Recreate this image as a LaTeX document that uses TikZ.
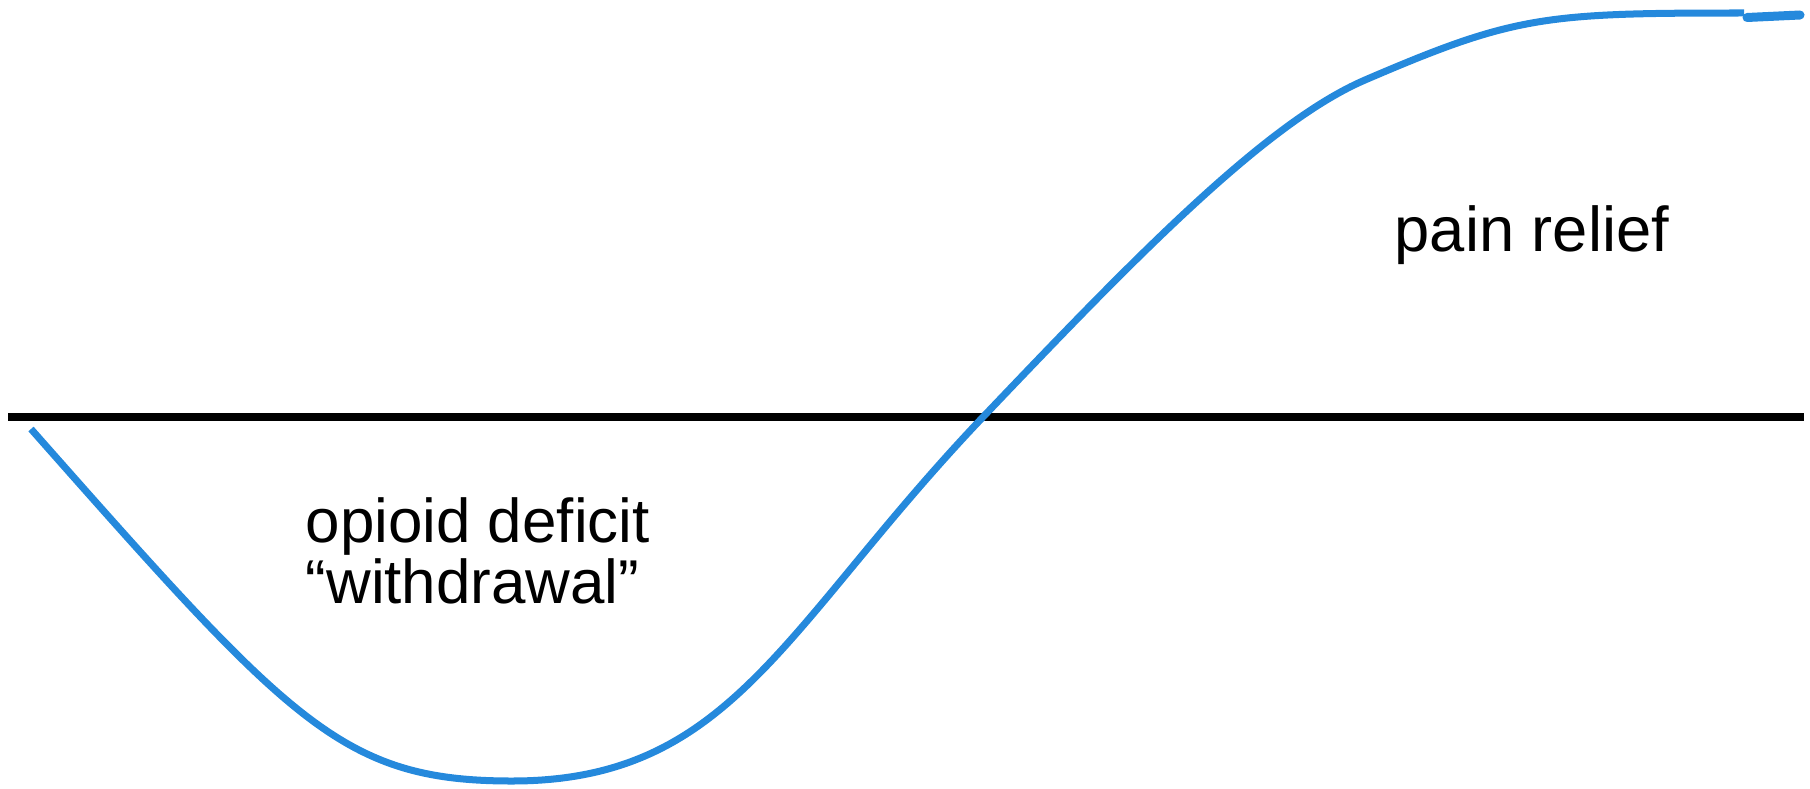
\documentclass[tikz,border=0pt]{standalone}
\usepackage{fontspec}
\setmainfont{Liberation Sans}
\definecolor{curveblue}{RGB}{37,137,220}
\begin{document}
\begin{tikzpicture}[x=0.01cm,y=-0.01cm,
    axisline/.style={black,line width=0.08cm},
    effectcurve/.style={curveblue,line width=0.07cm},
    lbl/.style={inner sep=0pt,anchor=base west,font=\fontsize{17.6}{17.4}\selectfont}]
  \useasboundingbox (0,0) rectangle (1810,788);
  % zero line
  \coordinate (zl) at (8,416.5);
  \coordinate (zr) at (1804,416.5);
  \draw[axisline] (zl) -- (zr);
  % opioid effect over time
  \coordinate (start) at (31,429);
  \coordinate (low) at (512,781);
  \coordinate (cross) at (983,417);
  \coordinate (bend) at (1365,80);
  \coordinate (top) at (1744,13);
  \draw[effectcurve] (start) .. controls (291,723) and (342,781) .. (low)
    .. controls (732,781) and (783,627) .. (cross)
    .. controls (1133,259.5) and (1265,123) .. (bend)
    .. controls (1515,15.5) and (1544,13) .. (top);
  \draw[effectcurve,line width=0.09cm,line cap=round] (1747,17.5) -- (1800,15);
  \node[lbl] (deficit) at (305,542) {opioid deficit};
  \node[lbl] (withdrawal) at (305,603) {“withdrawal”};
  \node[lbl,font=\fontsize{18}{18}\selectfont] (relief) at (1394,251) {pain relief};
\end{tikzpicture}
\end{document}
